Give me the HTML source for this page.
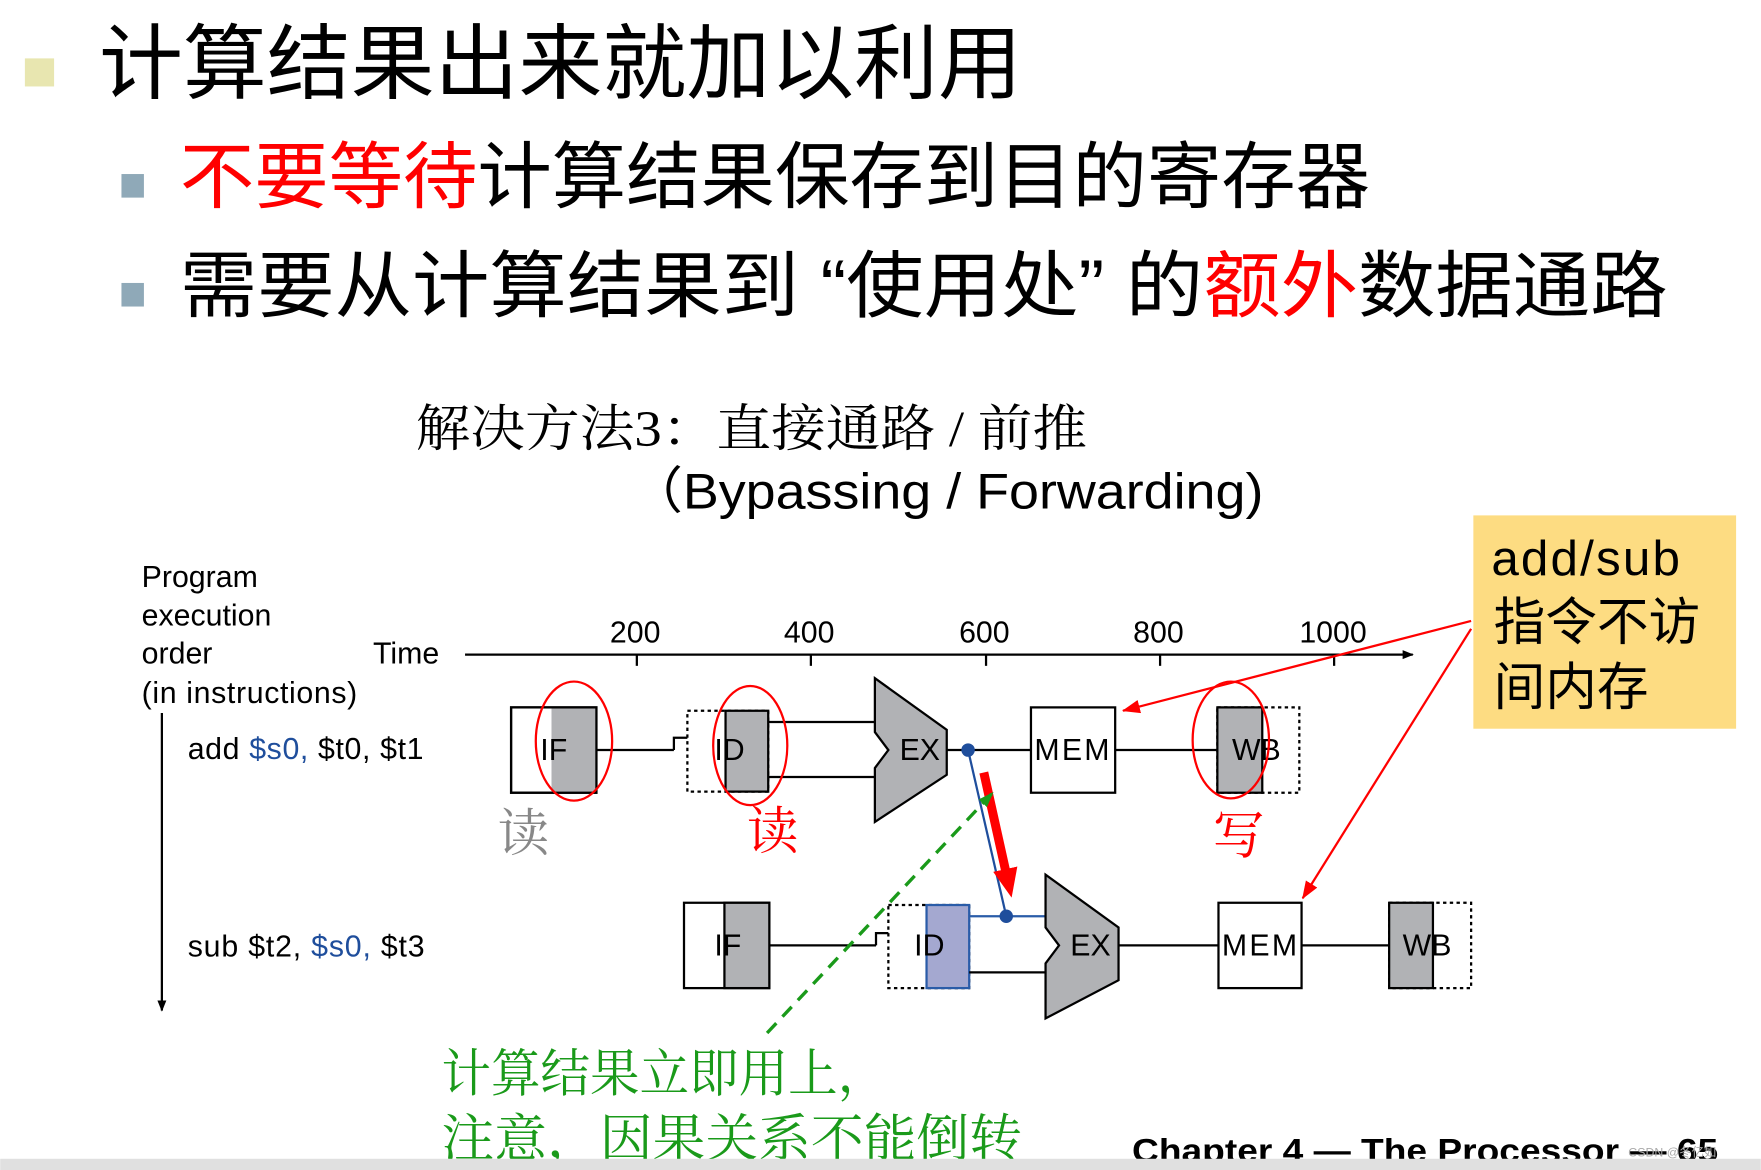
<!DOCTYPE html>
<html><head><meta charset="utf-8"><style>
html,body{margin:0;padding:0;background:#fff;overflow:hidden}
svg{display:block}
.s{font-family:"Liberation Sans","Noto Sans CJK SC",sans-serif}
.c{font-family:"Liberation Sans","Noto Sans CJK SC",sans-serif}
.se{font-family:"Liberation Serif","Noto Serif CJK SC",serif}
</style></head><body>
<svg width="1761" height="1170" viewBox="0 0 1568 1042" xmlns="http://www.w3.org/2000/svg">
<defs>
<marker id="ab" markerWidth="10" markerHeight="10" refX="9" refY="5" orient="auto" markerUnits="userSpaceOnUse"><path d="M0,1 L10,5 L0,9 z" fill="#000"/></marker>
<marker id="ar" markerWidth="16" markerHeight="12" refX="15" refY="6" orient="auto" markerUnits="userSpaceOnUse"><path d="M0,0 L16,6 L0,12 z" fill="#f00"/></marker>
<marker id="arb" markerWidth="26" markerHeight="22" refX="4" refY="11" orient="auto" markerUnits="userSpaceOnUse"><path d="M0,0 L26,11 L0,22 z" fill="#f00"/></marker>
<marker id="ag" markerWidth="14" markerHeight="10" refX="13" refY="5" orient="auto" markerUnits="userSpaceOnUse"><path d="M0,0 L14,5 L0,10 z" fill="#1a9a1a"/></marker>
</defs>
<rect x="22" y="52" width="26" height="25" fill="#e8e6b0"/>
<text x="88" y="82" font-size="73" class="c" fill="#000" textLength="822" lengthAdjust="spacingAndGlyphs">计算结果出来就加以利用</text>
<rect x="108" y="155" width="20" height="21" fill="#8fa9b8"/>
<text x="160" y="180" font-size="65" class="c" textLength="1060" lengthAdjust="spacingAndGlyphs"><tspan fill="#f00">不要等待</tspan>计算结果保存到目的寄存器</text>
<rect x="108" y="252" width="20" height="21" fill="#8fa9b8"/>
<text x="160" y="277" font-size="65" class="c" textLength="1325" lengthAdjust="spacingAndGlyphs">需要从计算结果到 “使用处” 的<tspan fill="#f00">额外</tspan>数据通路</text>
<text x="370" y="397" font-size="45" class="se" textLength="598" lengthAdjust="spacingAndGlyphs">解决方法3：直接通路 /  前推</text>
<text x="560" y="453" font-size="45" class="s" textLength="565" lengthAdjust="spacingAndGlyphs">（Bypassing  /  Forwarding)</text>
<rect x="1312" y="459" width="234" height="190" fill="#fddc82"/>
<text x="1328" y="512" font-size="44" class="s" textLength="168">add/sub</text>
<text x="1330" y="570" font-size="46" class="c">指令不访</text>
<text x="1330" y="628" font-size="46" class="c">间内存</text>
<g class="s" font-size="27">
<text x="126" y="523">Program</text>
<text x="126" y="557">execution</text>
<text x="126" y="591">order</text>
<text x="126" y="626" textLength="192">(in instructions)</text>
<text x="332" y="591">Time</text>
<text x="543" y="572">200</text><text x="698" y="572">400</text><text x="854" y="572">600</text><text x="1009" y="572">800</text><text x="1157" y="572">1000</text>
<text x="167" y="676" textLength="210">add <tspan fill="#1f4e9c">$s0,</tspan> $t0, $t1</text>
<text x="167" y="852" textLength="211">sub $t2, <tspan fill="#1f4e9c">$s0,</tspan> $t3</text>
</g>
<line x1="414" y1="583" x2="1258" y2="583" stroke="#000" stroke-width="2" marker-end="url(#ab)"/>
<g stroke="#000" stroke-width="2"><line x1="567" y1="583" x2="567" y2="593"/><line x1="722" y1="583" x2="722" y2="593"/><line x1="878" y1="583" x2="878" y2="593"/><line x1="1033" y1="583" x2="1033" y2="593"/><line x1="1188" y1="583" x2="1188" y2="593"/></g>
<line x1="144" y1="635" x2="144" y2="900" stroke="#000" stroke-width="2" marker-end="url(#ab)"/>
<!-- row 1 -->
<g stroke="#000" stroke-width="2" fill="none">
<rect x="455" y="630" width="76" height="76" fill="#fff"/>
<rect x="491" y="630" width="40" height="76" fill="#b1b2b5" stroke="none"/>
<rect x="455" y="630" width="76" height="76"/>
<line x1="531" y1="668" x2="600" y2="668"/>
<path d="M600,668 V657 H612"/>
<rect x="612" y="633" width="72" height="72" stroke-dasharray="3,3"/>
<rect x="646" y="633" width="38" height="72" fill="#b1b2b5"/>
<line x1="684" y1="643" x2="779" y2="643"/><line x1="684" y1="692" x2="779" y2="692"/>
<path d="M779,604 L843,650 L843,690 L779,732 L779,684 L791,668 L779,652 Z" fill="#b1b2b5"/>
<line x1="843" y1="668" x2="918" y2="668"/>
<rect x="918" y="630" width="75" height="76" fill="#fff"/>
<line x1="993" y1="668" x2="1084" y2="668"/>
<rect x="1084" y="630" width="73" height="76" stroke-dasharray="3,3"/>
<rect x="1084" y="630" width="40" height="76" fill="#b1b2b5"/>
</g>
<g class="s" font-size="27">
<text x="481" y="677">IF</text><text x="636" y="677">ID</text><text x="801" y="677">EX</text><text x="921" y="677" textLength="67">MEM</text><text x="1097" y="677">WB</text>
</g>
<!-- row 2 -->
<g stroke="#000" stroke-width="2" fill="none">
<rect x="609" y="804" width="76" height="76" fill="#fff"/>
<rect x="645" y="804" width="40" height="76" fill="#b1b2b5"/>
<line x1="685" y1="842" x2="780" y2="842"/>
<path d="M780,842 V831 H791"/>
<rect x="791" y="806" width="72" height="74" stroke-dasharray="3,3"/>
<rect x="825" y="806" width="38" height="74" fill="#a4a8d0" stroke="#2a5ca8"/>
<line x1="863" y1="816" x2="931" y2="816" stroke="#2a5ca8"/>
<line x1="863" y1="866" x2="931" y2="866"/>
<path d="M931,779 L996,826 L996,873 L931,907 L931,858 L943,842 L931,826 Z" fill="#b1b2b5"/>
<line x1="996" y1="842" x2="1085" y2="842"/>
<rect x="1085" y="804" width="74" height="76" fill="#fff"/>
<line x1="1159" y1="842" x2="1237" y2="842"/>
<rect x="1237" y="804" width="73" height="76" stroke-dasharray="3,3"/>
<rect x="1237" y="804" width="39" height="76" fill="#b1b2b5"/>
</g>
<g class="s" font-size="27">
<text x="636" y="851">IF</text><text x="814" y="851">ID</text><text x="953" y="851">EX</text><text x="1088" y="851" textLength="67">MEM</text><text x="1249" y="851">WB</text>
</g>
<!-- forwarding -->
<line x1="862" y1="668" x2="896" y2="816" stroke="#1f4e9c" stroke-width="2"/>
<circle cx="862" cy="668" r="6" fill="#1f4e9c"/>
<circle cx="896" cy="816" r="6" fill="#1f4e9c"/>
<line x1="876" y1="688" x2="896" y2="778" stroke="#f00" stroke-width="8" marker-end="url(#arb)"/>
<line x1="683" y1="920" x2="884" y2="706" stroke="#1a9a1a" stroke-width="3" stroke-dasharray="12,8" marker-end="url(#ag)"/>
<!-- ellipses -->
<g fill="none" stroke="#f00" stroke-width="2">
<ellipse cx="511" cy="660" rx="34" ry="53"/>
<ellipse cx="668" cy="664" rx="33" ry="53"/>
<ellipse cx="1096" cy="659" rx="34" ry="52"/>
</g>
<line x1="1310" y1="553" x2="1000" y2="633" stroke="#f00" stroke-width="2" marker-end="url(#ar)"/>
<line x1="1310" y1="560" x2="1160" y2="800" stroke="#f00" stroke-width="2" marker-end="url(#ar)"/>
<g class="se" font-size="46">
<text x="443" y="758" fill="#888">读</text>
<text x="665" y="756" fill="#f00">读</text>
<text x="1080" y="760" fill="#f00">写</text>
</g>
<g class="se" font-size="46" fill="#1a9a1a">
<text x="393" y="972" textLength="397" lengthAdjust="spacingAndGlyphs">计算结果立即用上，</text>
<text x="393" y="1030" textLength="517" lengthAdjust="spacingAndGlyphs">注意，因果关系不能倒转</text>
</g>
<text x="1008" y="1035" font-size="30" font-weight="bold" class="s" textLength="522" lengthAdjust="spacingAndGlyphs">Chapter 4 — The Processor — 65</text>
<rect x="0" y="1032" width="1568" height="10" fill="#e0e0e0"/>
<text x="1450" y="1030" font-size="11" fill="#aaa" class="c">CSDN @冬亿如</text>
</svg>
</body></html>
